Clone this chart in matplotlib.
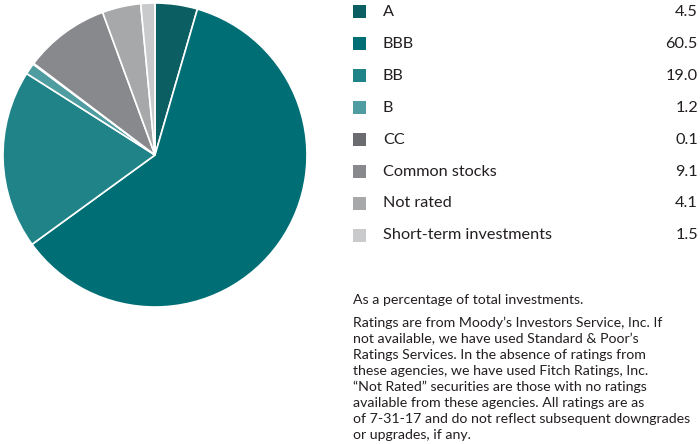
import matplotlib
matplotlib.use("Agg")
import matplotlib.pyplot as plt
from matplotlib.patches import Rectangle

categories = ["A", "BBB", "BB", "B", "CC", "Common stocks", "Not rated", "Short-term investments"]
values = [4.5, 60.5, 19.0, 1.2, 0.1, 9.1, 4.1, 1.5]
value_labels = ["4.5", "60.5", "19.0", "1.2", "0.1", "9.1", "4.1", "1.5"]
colors = ["#0b5e62", "#006e75", "#1f8388", "#4f9da1", "#6b6c6f", "#88898c", "#a7a8aa", "#c9cacc"]

note1 = "As a percentage of total investments."
note2_lines = [
    "Ratings are from Moody\u2019s Investors Service, Inc. If",
    "not available, we have used Standard & Poor\u2019s",
    "Ratings Services. In the absence of ratings from",
    "these agencies, we have used Fitch Ratings, Inc.",
    "\u201cNot Rated\u201d securities are those with no ratings",
    "available from these agencies. All ratings are as",
    "of 7-31-17 and do not reflect subsequent downgrades",
    "or upgrades, if any.",
]

W, H = 700, 444
fig = plt.figure(figsize=(W / 100, H / 100), dpi=100)
plt.rcParams['font.family'] = ['Lato', 'DejaVu Sans']

cx, cy, r = 155, 155, 152
ax = fig.add_axes([(cx - r) / W, 1 - (cy + r) / H, 2 * r / W, 2 * r / H])
ax.pie(values, colors=colors, startangle=90, counterclock=False,
       wedgeprops=dict(edgecolor="white", linewidth=1.2))
ax.set_aspect("equal")
ax.set_xlim(-1, 1)
ax.set_ylim(-1, 1)
ax.axis("off")

def fx(x):
    return x / W

def fy(y):
    return 1 - y / H

text_color = "#231f20"
row0, step = 12, 31.9
for i, (cat, lab, col) in enumerate(zip(categories, value_labels, colors)):
    y = row0 + i * step
    fig.patches.append(Rectangle((fx(353), fy(y + 6.5)), 13 / W, 13 / H,
                                 transform=fig.transFigure, facecolor=col, edgecolor="none"))
    fig.text(fx(383), fy(y), cat, fontsize=11.7, color=text_color, va="center", ha="left")
    fig.text(fx(698), fy(y), lab, fontsize=11.7, color=text_color, va="center", ha="right")

fig.text(fx(353), fy(300), note1, fontsize=10.2, color=text_color, va="center", ha="left")
for i, line in enumerate(note2_lines):
    fig.text(fx(353), fy(323 + i * 16.0), line, fontsize=10.2, color=text_color, va="center", ha="left")

fig.savefig("out.png", dpi=100)
